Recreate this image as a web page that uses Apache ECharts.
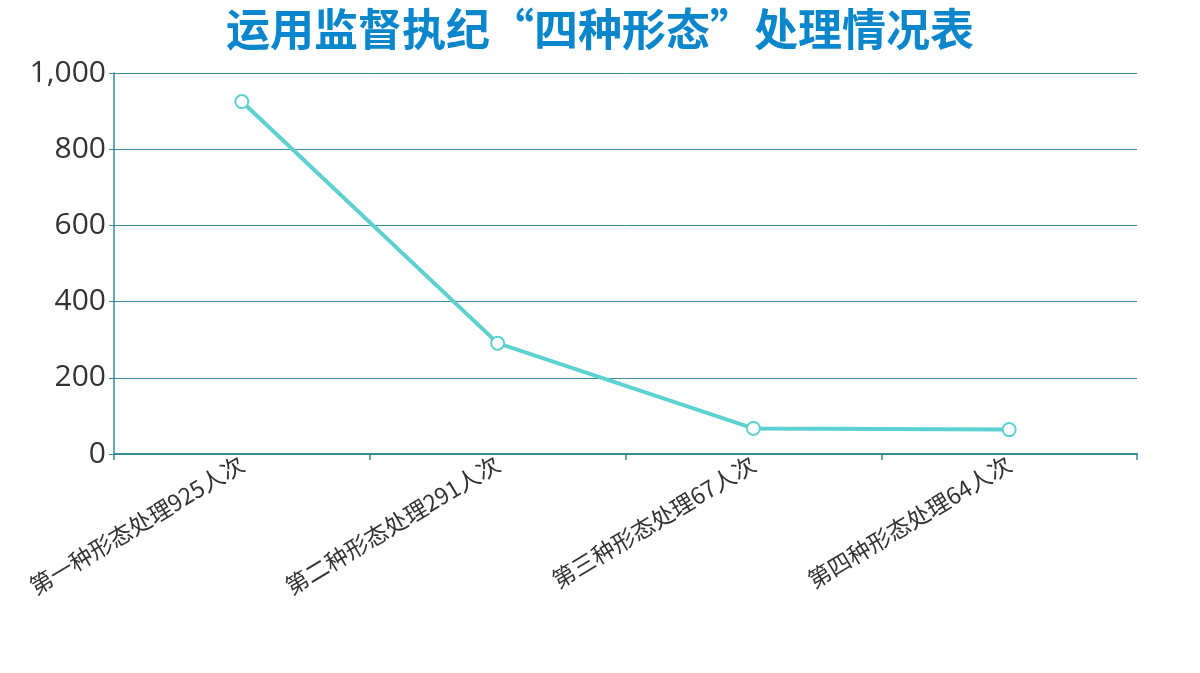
<!DOCTYPE html>
<html><head><meta charset="utf-8">
<script src="https://cdn.jsdelivr.net/npm/echarts@6/dist/echarts.min.js"></script>
<style>html,body{margin:0;padding:0;background:#fff}#c{width:1200px;height:673px}</style>
</head><body><div id="c"></div>
<script>
const titleText = '运用监督执纪“四种形态”处理情况表';
const categories = ['第一种形态处理925人次','第二种形态处理291人次','第三种形态处理67人次','第四种形态处理64人次'];
const values = [925, 291, 67, 64];
const yTicks = {min: 0, max: 1000, interval: 200};

const chart = echarts.init(document.getElementById('c'));
chart.setOption({
  backgroundColor: '#fff',
  title: {
    text: titleText, left: 'center', top: 2,
    textStyle: {color: '#0a87cc', fontSize: 44, fontWeight: 'bold', fontFamily: 'Noto Sans CJK SC'}
  },
  grid: {left: 114, right: 63, top: 73, bottom: 219, containLabel: false},
  xAxis: {
    type: 'category', data: categories, boundaryGap: true,
    axisLine: {lineStyle: {color: '#3a8a99', width: 2}},
    axisTick: {show: true, length: 6, lineStyle: {color: '#3a8a99', width: 1.5}},
    axisLabel: {rotate: 31, color: '#333', fontSize: 23, margin: 8, fontFamily: 'Noto Sans CJK SC', interval: 0}
  },
  yAxis: {
    type: 'value', min: yTicks.min, max: yTicks.max, interval: yTicks.interval,
    axisLine: {show: true, lineStyle: {color: '#3a8a99', width: 1.5}},
    axisTick: {show: true, length: 5, lineStyle: {color: '#3a8a99'}},
    splitLine: {lineStyle: {color: '#3a8a99', width: 1}},
    axisLabel: {color: '#333', fontSize: 30, margin: 8, fontFamily: 'Open Sans'}
  },
  series: [{
    type: 'line', data: values,
    symbol: 'emptyCircle', symbolSize: 13,
    lineStyle: {color: '#5dd0d0', width: 4},
    itemStyle: {color: '#5dd0d0', borderColor: '#3fbcc4', borderWidth: 1.5},
    animation: false
  }]
});
</script></body></html>
